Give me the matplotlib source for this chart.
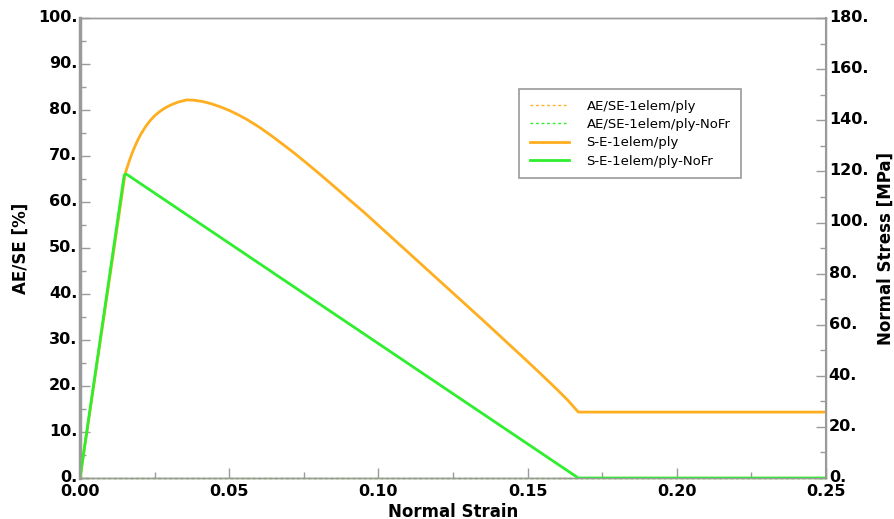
import matplotlib
matplotlib.use('Agg')
import matplotlib.pyplot as plt
import matplotlib.transforms as mtransforms
from matplotlib.ticker import MultipleLocator, FuncFormatter
from matplotlib.lines import Line2D

# stress-strain curves (right axis, MPa)
strain_fr = [0.0, 0.0151, 0.0158, 0.0166, 0.0175, 0.0185, 0.0195, 0.0205, 0.022, 0.0235,
             0.025, 0.027, 0.029, 0.031, 0.033, 0.0358, 0.038, 0.041, 0.044, 0.047,
             0.050, 0.053, 0.056, 0.060, 0.064, 0.068, 0.072, 0.076, 0.080, 0.085,
             0.090, 0.095, 0.100, 0.105, 0.110, 0.115, 0.120, 0.125, 0.130, 0.135,
             0.140, 0.145, 0.150, 0.155, 0.160, 0.1635, 0.167, 0.25]
stress_fr = [0.0, 119.0, 121.6, 124.4, 127.3, 130.1, 132.6, 134.8, 137.6, 139.9,
             141.8, 143.7, 145.2, 146.3, 147.2, 148.0, 147.9, 147.4, 146.5, 145.3,
             143.9, 142.2, 140.3, 137.4, 134.1, 130.6, 127.0, 123.2, 119.3, 114.3,
             109.2, 104.2, 98.9, 93.6, 88.3, 83.0, 77.7, 72.4, 67.1, 61.8,
             56.4, 51.0, 45.6, 40.1, 34.5, 30.4, 25.8, 25.8]

strain_nofr = [0.0, 0.0148, 0.0153, 0.0160, 0.167, 0.25]
stress_nofr = [0.0, 118.5, 119.0, 118.6, 0.0, 0.0]

# AE/SE ratio (left axis, %) - stays at zero
strain_ae = [0.0, 0.25]
ae_fr = [0.0, 0.0]
ae_nofr = [0.0, 0.0]

orange = '#FFAE1F'
green = '#2EEE2E'
gray = '#9A9A9A'

fig = plt.figure(figsize=(8.95, 5.19), dpi=100)
ax = fig.add_axes([0.0894, 0.079, 0.8335, 0.886])
ax2 = ax.twinx()

ax.plot(strain_ae, ae_fr, color=orange, lw=1, ls=(0, (2, 2)), clip_on=False)
ax.plot(strain_ae, ae_nofr, color=green, lw=1, ls=(0, (2, 2)), clip_on=False)
ax2.plot(strain_fr, stress_fr, color=orange, lw=2)
ax2.plot(strain_nofr, stress_nofr, color=green, lw=2)

ax.set_xlim(0, 0.25)
ax.set_ylim(0, 100)
ax2.set_ylim(0, 180)

ax.xaxis.set_major_locator(MultipleLocator(0.05))
ax.xaxis.set_minor_locator(MultipleLocator(0.025))
ax.yaxis.set_major_locator(MultipleLocator(10))
ax.yaxis.set_minor_locator(MultipleLocator(5))
ax2.yaxis.set_major_locator(MultipleLocator(20))
ax2.yaxis.set_minor_locator(MultipleLocator(10))

ax.xaxis.set_major_formatter(FuncFormatter(lambda v, p: '%.2f' % v))
ax.yaxis.set_major_formatter(FuncFormatter(lambda v, p: '%d.' % round(v)))
ax2.yaxis.set_major_formatter(FuncFormatter(lambda v, p: '%d.' % round(v)))

for a in (ax, ax2):
    a.tick_params(which='both', direction='in', colors=gray, labelcolor='black',
                  labelsize=11.5, pad=2)
    a.tick_params(which='major', length=7, width=1)
    a.tick_params(which='minor', length=4, width=1)
    for lab in a.get_xticklabels() + a.get_yticklabels():
        lab.set_fontweight('bold')
    for s in a.spines.values():
        s.set_color(gray)
        s.set_linewidth(1)
ax.spines['left'].set_linewidth(2.5)
ax2.spines['right'].set_linewidth(1.5)
ax.tick_params(axis='x', pad=4)

# nudge y tick labels up a little, like the reference
shift = mtransforms.ScaledTranslation(0, 1.5 / 72, fig.dpi_scale_trans)
for lab in ax.get_yticklabels() + ax2.get_yticklabels():
    lab.set_transform(lab.get_transform() + shift)

ax.set_xlabel('Normal Strain', fontsize=12, fontweight='bold', labelpad=3)
ax.set_ylabel('AE/SE [%]', fontsize=12, fontweight='bold', labelpad=6)
ax2.set_ylabel('Normal Stress [MPa]', fontsize=12, fontweight='bold', labelpad=6)

handles = [
    Line2D([], [], color=orange, lw=1, ls=(0, (2, 2))),
    Line2D([], [], color=green, lw=1, ls=(0, (2, 2))),
    Line2D([], [], color=orange, lw=2),
    Line2D([], [], color=green, lw=2),
]
labels = ['AE/SE-1elem/ply', 'AE/SE-1elem/ply-NoFr', 'S-E-1elem/ply', 'S-E-1elem/ply-NoFr']
leg = ax2.legend(handles, labels, loc='upper left', bbox_to_anchor=(0.58, 0.86),
                 fontsize=9.5, frameon=True, fancybox=False, framealpha=1,
                 edgecolor=gray, handlelength=3.0, handletextpad=1.3,
                 borderpad=0.8, labelspacing=0.4)
leg.get_frame().set_linewidth(1.2)

fig.savefig('out.png', dpi=100)
